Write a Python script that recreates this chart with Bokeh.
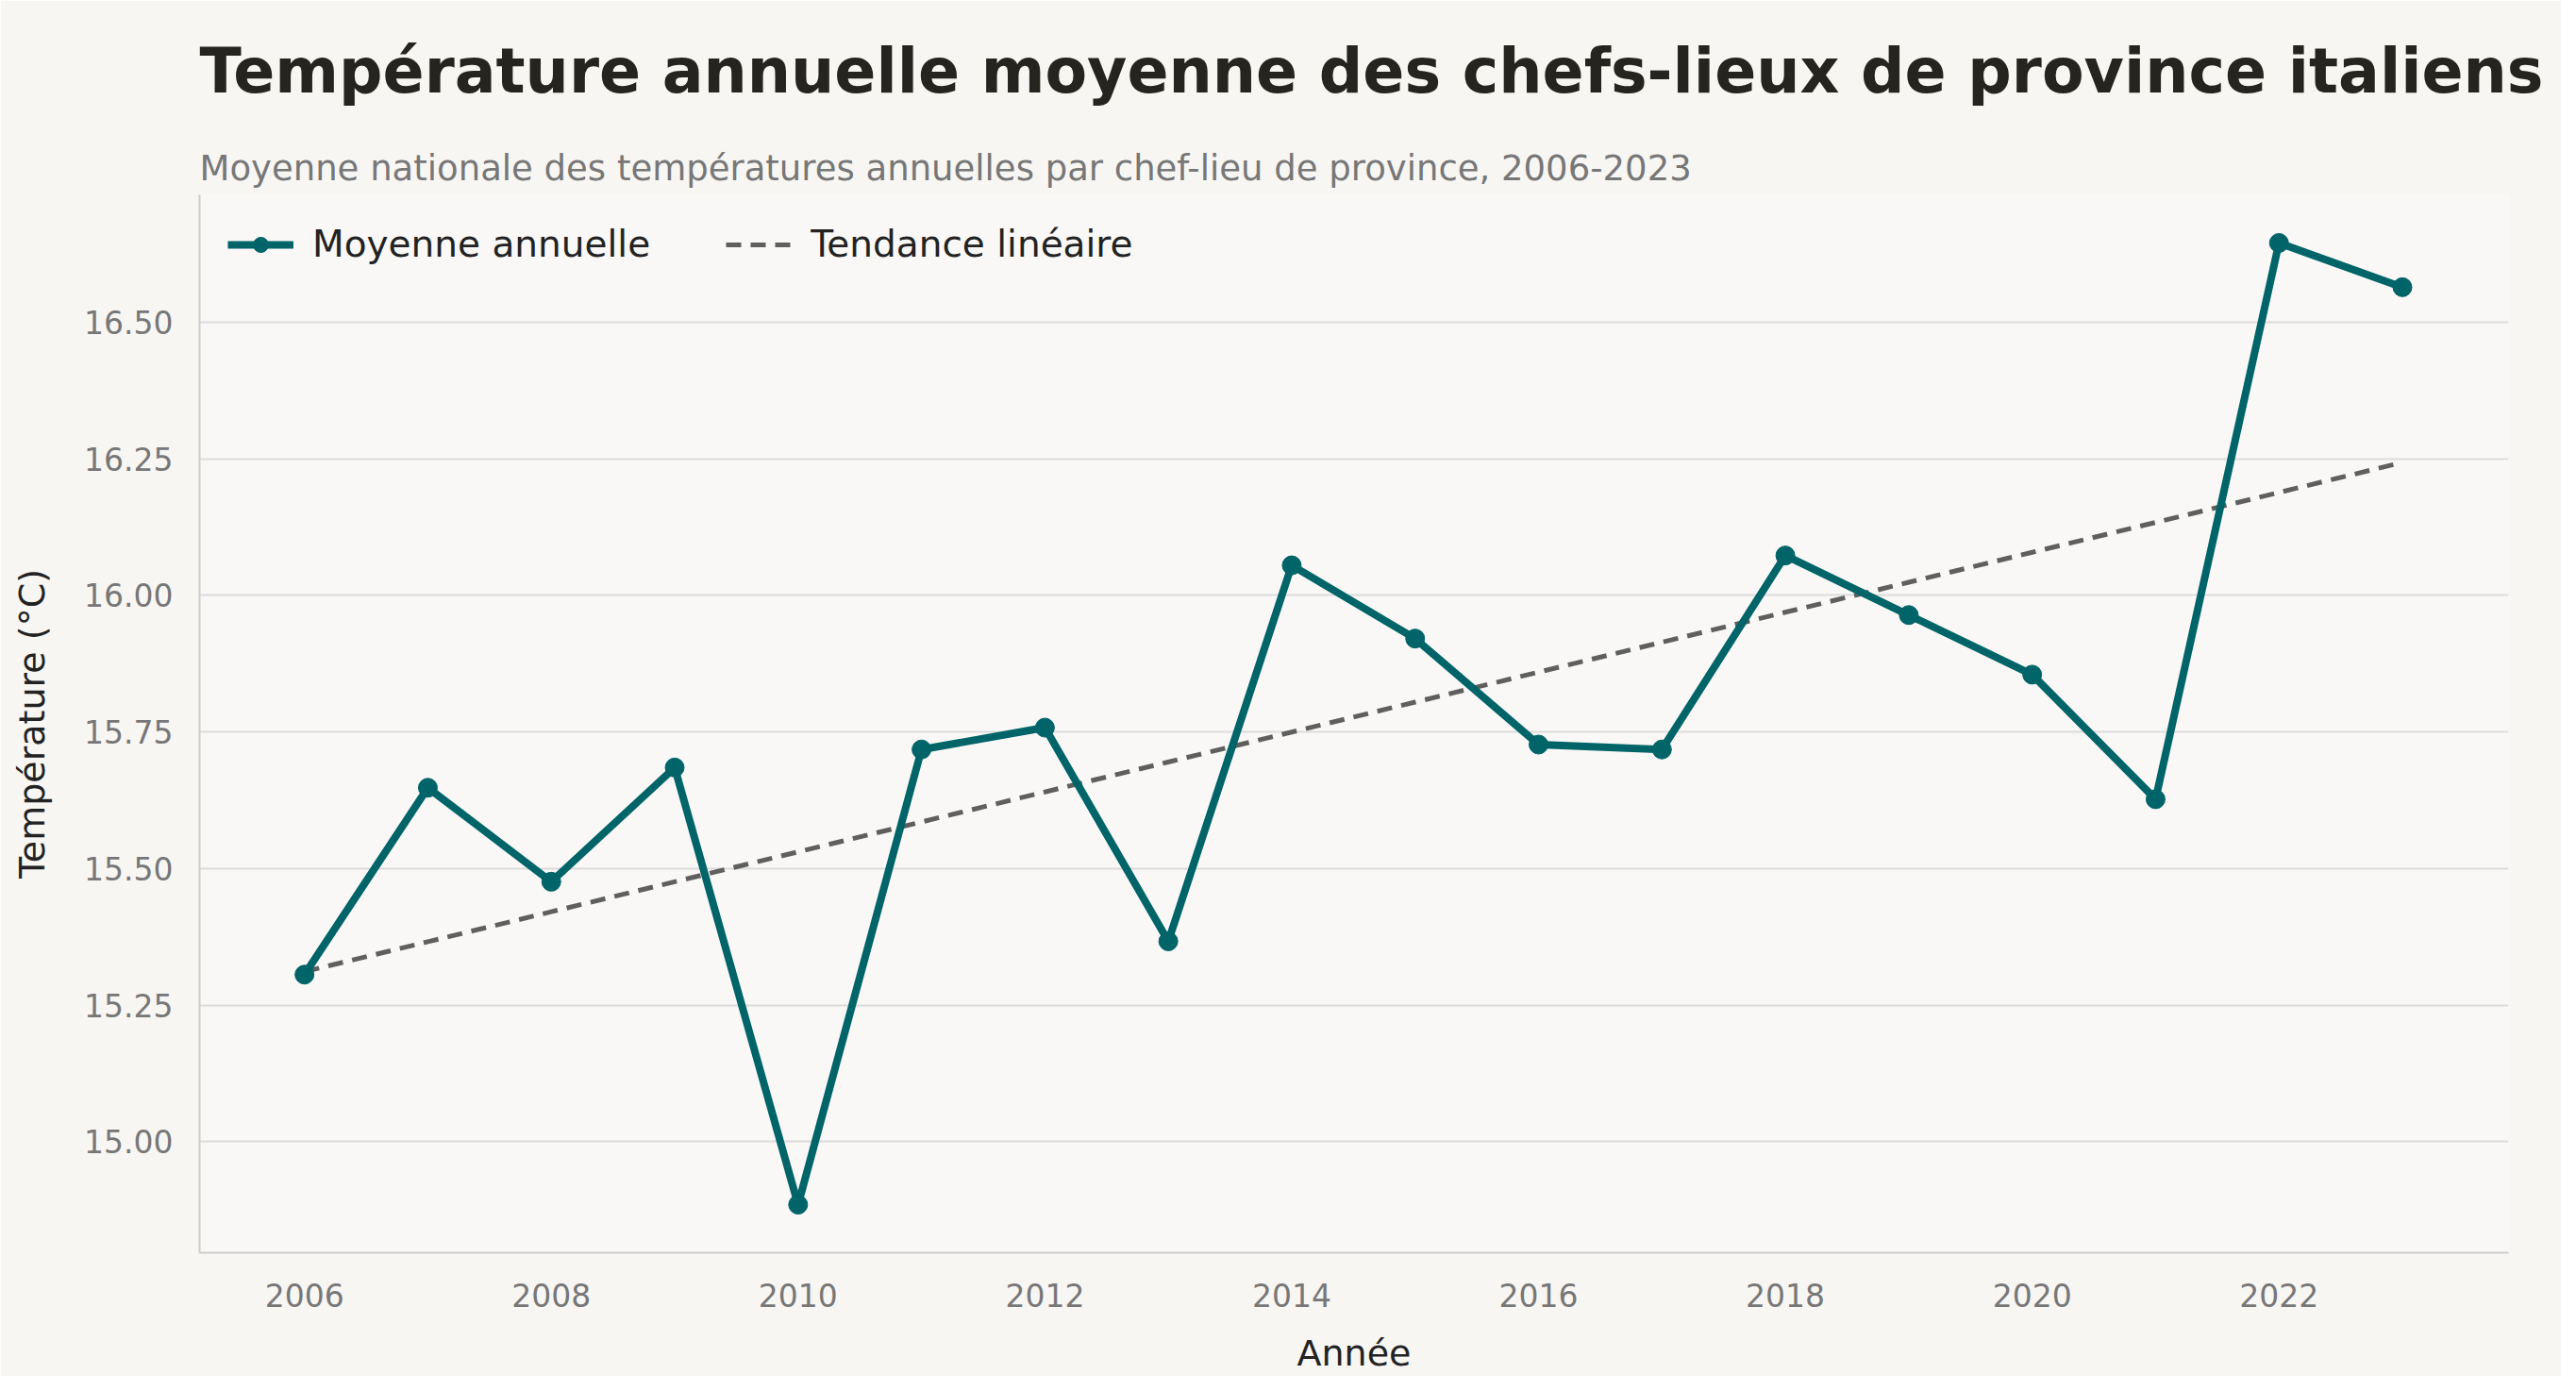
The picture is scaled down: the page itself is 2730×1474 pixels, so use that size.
import numpy as np
from bokeh.plotting import figure
from bokeh.models import Title, Range1d, Legend, LegendItem, SingleIntervalTicker, NumeralTickFormatter
from bokeh.embed import file_html
from bokeh.resources import INLINE

years = list(range(2006, 2024))
temps = [15.306, 15.648, 15.476, 15.685, 14.885, 15.718, 15.758, 15.367, 16.055,
         15.921, 15.727, 15.718, 16.073, 15.964, 15.855, 15.627, 16.645, 16.564]

coef = np.polyfit(years, temps, 1)
trend = list(np.polyval(coef, years))

BG = "#f7f6f3"
p = figure(width=2714, height=1458, output_backend="svg", toolbar_location=None,
           x_range=Range1d(2005.15, 2023.86), y_range=Range1d(14.797, 16.733),
           background_fill_color="#f9f8f6", border_fill_color=BG,
           min_border_left=211, min_border_right=56, min_border_bottom=130, min_border_top=10)
p.outline_line_color = None

sub = Title(text="Moyenne nationale des températures annuelles par chef-lieu de province, 2006-2023",
            text_font="DejaVu Sans", text_font_size="37px", text_font_style="normal",
            text_color="#777777", offset=0, standoff=14)
p.add_layout(sub, "above")
t = Title(text="Température annuelle moyenne des chefs-lieux de province italiens",
          text_font="DejaVu Sans", text_font_size="65px", text_font_style="bold",
          text_color="#25241e", offset=0, standoff=70)
p.add_layout(t, "above")

tl = p.line(years, trend, line_color="#5f5f5f", line_width=5, line_dash="16 10")
ml = p.line(years, temps, line_color="#006468", line_width=8)
mc = p.scatter(years, temps, size=20, fill_color="#006468", line_color="#006468")

leg = Legend(items=[LegendItem(label="Moyenne annuelle", renderers=[ml, mc]),
                    LegendItem(label="Tendance linéaire", renderers=[tl])],
             orientation="horizontal", location="top_left", background_fill_alpha=0,
             border_line_color=None, label_text_font="DejaVu Sans", label_text_font_size="39px",
             label_text_color="#222222", glyph_width=70, glyph_height=40, spacing=80, margin=30,
             label_standoff=20)
p.add_layout(leg)

p.xaxis.ticker = SingleIntervalTicker(interval=2)
p.yaxis.ticker = SingleIntervalTicker(interval=0.25)
p.yaxis.formatter = NumeralTickFormatter(format="0.00")
for ax in (p.xaxis, p.yaxis):
    ax.axis_line_color = "#cccccc"
    ax.axis_line_width = 2
    ax.major_tick_line_color = None
    ax.minor_tick_line_color = None
    ax.major_label_text_font = "DejaVu Sans"
    ax.major_label_text_font_size = "33px"
    ax.major_label_text_color = "#777777"
    ax.axis_label_text_font = "DejaVu Sans"
    ax.axis_label_text_font_size = "38px"
    ax.axis_label_text_font_style = "normal"
    ax.axis_label_text_color = "#222222"
p.xaxis.axis_label = "Année"
p.yaxis.axis_label = "Température (°C)"
p.xaxis.major_label_standoff = 26
p.yaxis.major_label_standoff = 22
p.xaxis.axis_label_standoff = 24
p.yaxis.axis_label_standoff = 30
p.xgrid.grid_line_color = None
p.ygrid.grid_line_color = "#dcdcdc"
p.ygrid.grid_line_width = 2

open("out.html", "w").write(file_html(p, INLINE))
